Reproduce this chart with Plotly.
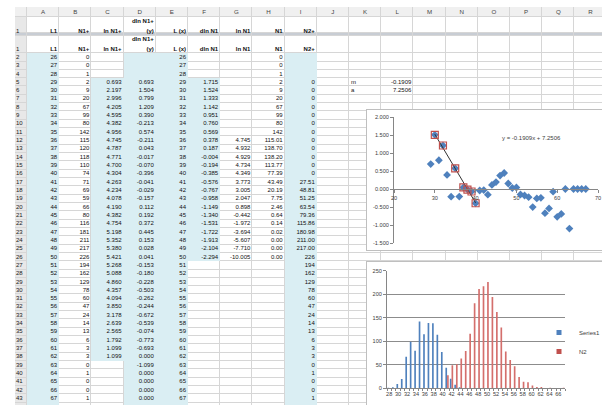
import plotly.graph_objects as go

FONT = "Liberation Sans, Arial, Helvetica, sans-serif"
W, H = 602, 405

# ---------------- data read from the sheet ----------------
L1 = list(range(26, 68))  # columns A and E, rows 2..43
N1_PLUS = [0, 0, 1, 2, 9, 20, 67, 99, 80, 142, 115, 120, 118, 110, 74, 71, 69, 59, 66, 80,
           116, 181, 211, 217, 226, 194, 162, 129, 78, 60, 47, 24, 14, 13, 6, 3, 3, 0, 1, 0, 0, 1]
LN_L = list(range(29, 63))
LN_N1_PLUS = [0.693, 2.197, 2.996, 4.205, 4.595, 4.382, 4.956, 4.745, 4.787, 4.771,
              4.700, 4.304, 4.263, 4.234, 4.078, 4.190, 4.382, 4.754, 5.198, 5.352,
              5.380, 5.421, 5.268, 5.088, 4.860, 4.357, 4.094, 3.850, 3.178, 2.639,
              2.565, 1.792, 1.099, 1.099]
DLN_L = list(range(29, 68))
DLN_Y = [0.693, 1.504, 0.799, 1.209, 0.390, -0.213, 0.574, -0.211, 0.043, -0.017,
         -0.070, -0.396, -0.041, -0.029, -0.157, 0.112, 0.192, 0.372, 0.445, 0.153,
         0.028, 0.041, -0.153, -0.180, -0.228, -0.503, -0.262, -0.244, -0.672, -0.539,
         -0.074, -0.773, -0.693, 0.000, -1.099, 0.000, 0.000, 0.000, 0.000]
FIT_L = list(range(29, 51))
DLN_N1 = [1.715, 1.524, 1.333, 1.142, 0.951, 0.760, 0.569, 0.378, 0.187, -0.004,
          -0.194, -0.385, -0.576, -0.767, -0.958, -1.149, -1.340, -1.531, -1.722, -1.913,
          -2.104, -2.294]
LNN1_L = list(range(36, 51))
LN_N1 = [4.745, 4.932, 4.929, 4.734, 4.349, 3.773, 3.005, 2.047, 0.898, -0.442,
         -1.972, -3.694, -5.607, -7.710, -10.005]
N1_L = list(range(26, 51))
N1 = [0, 0, 1, 2, 9, 20, 67, 99, 80, 142, 115.01, 138.70, 138.20, 113.77, 77.39,
      43.49, 20.19, 7.75, 2.46, 0.64, 0.14, 0.02, 0.00, 0.00, 0.00]
N2_L = list(range(29, 68))
N2_PLUS = [0, 0, 0, 0, 0, 0, 0, 0, 0, 0, 0, 0,
           27.51, 48.81, 51.25, 63.54, 79.36, 115.86, 180.98, 211.00, 217.00,
           226, 194, 162, 129, 78, 60, 47, 24, 14, 13, 6, 3, 3, 0, 1, 0, 0, 1]
SLOPE, INTERCEPT = -0.1909, 7.2506
REG_L = [30, 32, 35, 37, 38, 39, 40]
HIST_CATS = list(range(28, 68))
HEADERS = {"A": ["L1"], "B": ["N1+"], "C": ["ln N1+"], "D": ["dln N1+", "(y)"],
           "E": ["L (x)"], "F": ["dln N1"], "G": ["ln N1"], "H": ["N1"], "I": ["N2+"]}
COLS = list("ABCDEFGHIJKLMNOPQR")

# display formats (decimals) for the mixed columns
N1_DEC = [0] * 10 + [2] * 15
N2_DEC = [0] * 12 + [2] * 9 + [0] * 18

# ---------------- sheet geometry (pixels) ----------------
SHEET_X0, COLA_X0, COL_W = 15, 27, 32.2
ROW2_Y0, ROW_H = 53.2, 8.32
LAST_ROW = 44
BAND_EDGES = [7, 17, 33, 36, ROW2_Y0]


def col_left(c):
    return COLA_X0 + COLS.index(c) * COL_W


def col_right(c):
    return col_left(c) + COL_W


def row_mid(r):
    return ROW2_Y0 + (r - 2) * ROW_H + ROW_H / 2


x_edges = [SHEET_X0, COLA_X0] + [COLA_X0 + (i + 1) * COL_W for i in range(len(COLS))]
y_edges = BAND_EDGES + [ROW2_Y0 + (k + 1) * ROW_H for k in range(LAST_ROW - 1)]
n_hrows = len(y_edges) - 1
n_hcols = len(x_edges) - 1

z = []
for i in range(n_hrows):
    row = []
    for j in range(n_hcols):
        if i == 2:
            v = 3
        elif i == 0:
            v = 1
        elif j == 0:
            v = 2
        else:
            v = 0
        row.append(v)
    z.append(row)

BLUE = {"A": (2, 44), "C": (5, 38), "D": (2, 44), "E": (2, 44), "F": (5, 26), "I": (2, 44)}
zb = []
for i in range(n_hrows):
    row = []
    for j in range(n_hcols):
        v = None
        if i >= 4 and j >= 1:
            r = i - 2
            c = COLS[j - 1]
            if c in BLUE and BLUE[c][0] <= r <= BLUE[c][1]:
                v = 1
        row.append(v)
    zb.append(row)

fig = go.Figure()
fig.add_shape(type="rect", xref="x", yref="y", x0=SHEET_X0, x1=W, y0=7, y1=H,
              fillcolor="#D6D6D6", line=dict(width=0), layer="below")
fig.add_trace(go.Heatmap(
    x=x_edges, y=y_edges, z=z, zmin=0, zmax=3, showscale=False, xgap=1, ygap=1,
    colorscale=[[0, "#FFFFFF"], [1 / 6, "#FFFFFF"], [1 / 6, "#F0F0F0"], [0.5, "#F0F0F0"],
                [0.5, "#E8E8E8"], [5 / 6, "#E8E8E8"], [5 / 6, "#C8CDD4"], [1, "#C8CDD4"]],
    hoverinfo="skip", xaxis="x", yaxis="y"))
fig.add_trace(go.Heatmap(
    x=x_edges, y=y_edges, z=zb, zmin=0, zmax=1, showscale=False,
    colorscale=[[0, "#DAEEF3"], [1, "#DAEEF3"]], hoverinfo="skip", xaxis="x", yaxis="y"))

# ---------------- sheet text ----------------
groups = {}


def put(x, y, t, pos, bold=False, color="#111111", size=6):
    key = (pos, bold, color, size)
    g = groups.setdefault(key, ([], [], []))
    g[0].append(x)
    g[1].append(y)
    g[2].append(t)


for c in COLS:
    put(col_left(c) + COL_W / 2, 12, c, "middle center", color="#444444", size=6.2)
for r in range(2, LAST_ROW):
    put(16, row_mid(r), str(r), "middle right", color="#222222")
for y in (31, 49.3):
    put(16, y, "1", "middle right", color="#222222")
for c, lines in HEADERS.items():
    for yb in (31, 49.3):
        if len(lines) == 2:
            put(col_right(c) - 2, yb - 10, lines[0], "middle left", bold=True)
            put(col_right(c) - 2, yb, lines[1], "middle left", bold=True)
        else:
            put(col_right(c) - 2, yb, lines[0], "middle left", bold=True)


def column(c, Ls, vals, decs):
    for L, v, d in zip(Ls, vals, decs):
        put(col_right(c) - 2, row_mid(L - 24), f"{v:.{d}f}", "middle left")


column("A", L1, L1, [0] * len(L1))
column("B", L1, N1_PLUS, [0] * len(L1))
column("C", LN_L, LN_N1_PLUS, [3] * len(LN_L))
column("D", DLN_L, DLN_Y, [3] * len(DLN_L))
column("E", L1, L1, [0] * len(L1))
column("F", FIT_L, DLN_N1, [3] * len(FIT_L))
column("G", LNN1_L, LN_N1, [3] * len(LNN1_L))
column("H", N1_L, N1, N1_DEC)
column("I", N2_L, N2_PLUS, N2_DEC)
put(col_left("K") + 2, row_mid(5), "m", "middle right")
put(col_left("K") + 2, row_mid(6), "a", "middle right")
put(col_right("L") - 2, row_mid(5), f"{SLOPE:.4f}", "middle left")
put(col_right("L") - 2, row_mid(6), f"{INTERCEPT:.4f}", "middle left")

for (pos, bold, color, size), (xs, ys, ts) in groups.items():
    fig.add_trace(go.Scatter(
        x=xs, y=ys, text=ts, mode="text", textposition=pos,
        textfont=dict(family=FONT, size=size, color=color, weight="bold" if bold else "normal"),
        hoverinfo="skip", showlegend=False, xaxis="x", yaxis="y", cliponaxis=False))

# ---------------- chart 1: scatter with trendline ----------------
fig.add_trace(go.Scatter(x=[None], y=[None], xaxis="x2", yaxis="y2", showlegend=False))
fig.add_trace(go.Scatter(
    x=DLN_L, y=DLN_Y, mode="markers", xaxis="x3", yaxis="y3", showlegend=False,
    marker=dict(symbol="diamond", size=6, color="#4F81BD")))
tx = [min(REG_L), max(REG_L)]
fig.add_trace(go.Scatter(
    x=tx, y=[SLOPE * v + INTERCEPT for v in tx], mode="lines", xaxis="x3", yaxis="y3",
    showlegend=False, line=dict(color="#333333", width=1)))
reg_y = [DLN_Y[DLN_L.index(v)] for v in REG_L]
fig.add_trace(go.Scatter(
    x=REG_L, y=reg_y, mode="markers", xaxis="x3", yaxis="y3", showlegend=False,
    marker=dict(symbol="square-open", size=7, color="#C0504D", line=dict(width=1.2))))
fig.add_annotation(x=53.8, y=1.42, xref="x3", yref="y3", showarrow=False,
                   text=f"y = {SLOPE:.4f}x + {INTERCEPT:.4f}",
                   font=dict(family=FONT, size=6, color="#404040"))

# ---------------- chart 2: grouped columns ----------------
fig.add_trace(go.Scatter(x=[None], y=[None], xaxis="x4", yaxis="y4", showlegend=False))
m1 = dict(zip(N1_L, N1))
m2 = dict(zip(N2_L, N2_PLUS))
s1 = [m1.get(c) for c in HIST_CATS]
s2 = [m2.get(c) for c in HIST_CATS]
fig.add_trace(go.Bar(x=HIST_CATS, y=s1, name="Series1", marker=dict(color="#4F81BD", line=dict(width=0)),
                     xaxis="x5", yaxis="y5", showlegend=False))
fig.add_trace(go.Bar(x=HIST_CATS, y=s2, name="N2", marker=dict(color="#D46F6C", line=dict(width=0)),
                     xaxis="x5", yaxis="y5", showlegend=False))
for nm, col in (("Series1", "#4F81BD"), ("N2", "#C0504D")):
    fig.add_trace(go.Scatter(x=[None], y=[None], mode="markers", name=nm, xaxis="x5", yaxis="y5",
                             marker=dict(symbol="square", size=5, color=col)))

hidden = dict(visible=False, fixedrange=True)
frame = dict(range=[0, 1], showline=True, mirror=True, linecolor="#BFBFBF", linewidth=1,
             showticklabels=False, ticks="", showgrid=False, zeroline=False, fixedrange=True)
ax_font = dict(family=FONT, size=5.6, color="#404040")

y3_dom = [1 - 243 / H, 1 - 117 / H]
y3_rng = [-1.5, 2.0]
x3_pos = y3_dom[0] + (0 - y3_rng[0]) / (y3_rng[1] - y3_rng[0]) * (y3_dom[1] - y3_dom[0])
y3_ticks = [-1.5, -1.0, -0.5, 0.0, 0.5, 1.0, 1.5, 2.0]

fig.update_layout(
    width=W, height=H, margin=dict(l=0, r=0, t=0, b=0, pad=0, autoexpand=False),
    paper_bgcolor="white", plot_bgcolor="white", showlegend=True,
    barmode="group", bargap=0.25, bargroupgap=0,
    xaxis=dict(range=[0, W], domain=[0, 1], **hidden),
    yaxis=dict(range=[H, 0], domain=[0, 1], **hidden),
    xaxis2=dict(domain=[367 / W, 1], anchor="y2", **frame),
    yaxis2=dict(domain=[1 - 250 / H, 1 - 110 / H], anchor="x2", **frame),
    xaxis3=dict(domain=[394 / W, 598 / W], range=[20, 70], tick0=0, dtick=10, anchor="free",
                position=x3_pos, showline=True, linecolor="#868686", linewidth=1,
                ticks="outside", ticklen=3, tickcolor="#868686", showgrid=False,
                zeroline=False, tickfont=ax_font, fixedrange=True),
    yaxis3=dict(domain=y3_dom, range=y3_rng, anchor="x3", tickvals=y3_ticks,
                ticktext=[f"{v:.3f}" for v in y3_ticks], showline=True, linecolor="#868686",
                ticks="outside", ticklen=3, tickcolor="#868686", showgrid=False,
                zeroline=False, tickfont=ax_font, fixedrange=True),
    xaxis4=dict(domain=[367 / W, 1], anchor="y4", **frame),
    yaxis4=dict(domain=[0, 1 - 262 / H], anchor="x4", **frame),
    xaxis5=dict(domain=[387 / W, 565 / W], range=[27.5, 67.5], anchor="y5",
                tickvals=HIST_CATS[::2], ticktext=[str(v) for v in HIST_CATS[::2]],
                ticks="", showline=True, linecolor="#868686",
                minor=dict(ticks="outside", tick0=27.5, dtick=1, ticklen=2, tickcolor="#868686"),
                showgrid=False, zeroline=False, tickfont=ax_font, fixedrange=True),
    yaxis5=dict(domain=[1 - 388.3 / H, 1 - 270.7 / H], range=[0, 250], dtick=50, anchor="x5",
                showline=True, linecolor="#868686", ticks="outside", ticklen=3,
                tickcolor="#868686", showgrid=True, gridcolor="#8C8C8C", gridwidth=1,
                zeroline=False, tickfont=ax_font, fixedrange=True),
    legend=dict(x=539 / W, y=1 - 318 / H, xanchor="left", yanchor="top",
                bgcolor="rgba(0,0,0,0)", borderwidth=0,
                font=dict(family=FONT, size=6, color="#404040")),
)

fig.write_html("out.html", config={"displayModeBar": False, "staticPlot": True}, post_script=(
    "document.body.style.margin='0px';"
    "document.body.style.overflow='hidden';"
    "document.documentElement.style.overflow='hidden';"))
